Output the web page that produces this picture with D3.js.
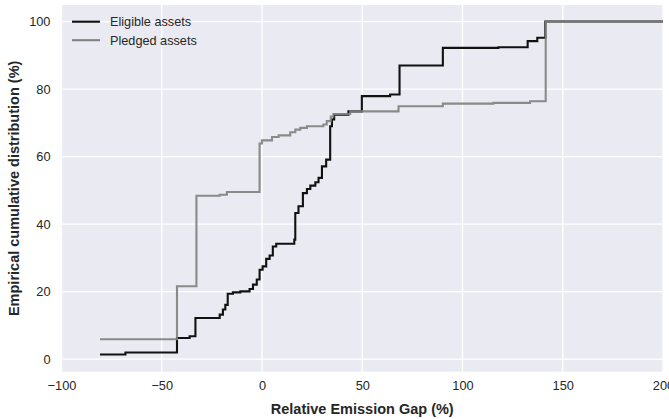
<!DOCTYPE html>
<html>
<head>
<meta charset="utf-8">
<script src="https://cdn.jsdelivr.net/npm/d3@7"></script>
<style>
  html, body { margin: 0; padding: 0; background: #fff; }
  svg { display: block; }
  text { font-family: "Liberation Sans", Arial, sans-serif; fill: #262626; }
</style>
</head>
<body>
<svg id="chart" width="669" height="419"></svg>
<script>
// ---- data ----
const xTicks = [-100, -50, 0, 50, 100, 150, 200];
const yTicks = [0, 20, 40, 60, 80, 100];
const seriesNames = ["Eligible assets", "Pledged assets"];

const eligibleX = [-80.8, -68.1, -42.4, -36.1, -33.2, -21.1, -19.5, -18.3, -17.1, -14.5, -10.8, -6.2, -4.5, -2.6, -1.2, 0.3, 2.1, 3.8, 5.4, 7.1, 16.1, 16.6, 18.2, 20.4, 22.4, 24.1, 26.6, 28.2, 29.9, 32.0, 34.0, 34.9, 36.0, 43.1, 49.8, 63.9, 68.6, 90.2, 117.9, 132.5, 137.3, 141.3, 200];
const eligibleY = [1.4, 2.0, 6.3, 6.8, 12.2, 13.2, 14.7, 16.1, 19.4, 19.8, 20.1, 20.8, 22.1, 23.6, 26.5, 27.5, 29.7, 30.7, 33.4, 34.2, 35.4, 43.3, 45.3, 49.2, 50.4, 51.4, 52.4, 53.7, 57.1, 59.1, 69.0, 71.0, 72.4, 73.4, 77.9, 78.4, 87.0, 92.2, 92.4, 94.2, 95.2, 100, 100];

const pledgedX = [-80.8, -42.4, -32.7, -21.1, -17.5, -1.2, 0.0, 5.0, 8.3, 14.1, 16.6, 19.1, 22.4, 30.6, 32.3, 34.3, 35.6, 44.0, 68.1, 90.2, 115.4, 133.7, 141.5, 200];
const pledgedY = [5.9, 21.6, 48.4, 48.7, 49.5, 63.9, 64.8, 65.8, 66.3, 67.2, 68.0, 68.5, 69.0, 69.5, 70.5, 71.9, 72.6, 73.4, 74.9, 75.7, 75.9, 76.4, 100, 100];

// ---- layout ----
const svg = d3.select("#chart");
const L = 61.5, R = 663, T = 5, B = 371.7;
const x = d3.scaleLinear().domain([-100, 200]).range([L, R]);
const y = d3.scaleLinear().domain([-3.7, 104.9]).range([B, T]);

svg.append("rect").attr("x", L).attr("y", T).attr("width", R - L).attr("height", B - T).attr("fill", "#EAEAF2");

const grid = svg.append("g");
grid.selectAll(".gx").data(xTicks).join("line")
  .attr("x1", d => x(d)).attr("x2", d => x(d)).attr("y1", T).attr("y2", B)
  .attr("stroke", "#fff").attr("stroke-width", 1.3);
grid.selectAll(".gy").data(yTicks).join("line")
  .attr("x1", L).attr("x2", R).attr("y1", d => y(d)).attr("y2", d => y(d))
  .attr("stroke", "#fff").attr("stroke-width", 1.3);

// axes
const xAxis = svg.append("g").attr("transform", `translate(0,${B})`)
  .call(d3.axisBottom(x).tickValues(xTicks).tickSize(0).tickPadding(9).tickFormat(d => d < 0 ? "\u2212" + Math.abs(d) : d));
const yAxis = svg.append("g").attr("transform", `translate(${L},0)`)
  .call(d3.axisLeft(y).tickValues(yTicks).tickSize(0).tickPadding(11));
[xAxis, yAxis].forEach(a => {
  a.select(".domain").remove();
  a.selectAll("text").attr("font-size", "12.8px").attr("fill", "#262626")
    .attr("font-family", '"Liberation Sans", Arial, sans-serif');
});

// lines
const line = d3.line().x(d => x(d[0])).y(d => y(d[1])).curve(d3.curveStepAfter);
const eligible = eligibleX.map((v, i) => [v, eligibleY[i]]);
const pledged = pledgedX.map((v, i) => [v, pledgedY[i]]);
const colors = ["#111111", "#808080"];

svg.append("path").datum(eligible).attr("d", line)
  .attr("fill", "none").attr("stroke", colors[0]).attr("stroke-width", 2.1);
svg.append("path").datum(pledged).attr("d", line)
  .attr("fill", "none").attr("stroke", colors[1]).attr("stroke-width", 2.1).attr("stroke-opacity", 0.9);

// legend
const lg = svg.append("g");
seriesNames.forEach((n, i) => {
  const yy = 21.7 + i * 18.5;
  lg.append("line").attr("x1", 72).attr("x2", 100).attr("y1", yy).attr("y2", yy)
    .attr("stroke", colors[i]).attr("stroke-width", 2.1);
  lg.append("text").attr("x", 110).attr("y", yy).attr("dy", "0.35em")
    .attr("font-size", "12.7px").text(n);
});

// axis labels
svg.append("text").attr("x", (L + R) / 2).attr("y", 414)
  .attr("text-anchor", "middle").attr("font-size", "14.5px").attr("font-weight", "bold")
  .text("Relative Emission Gap (%)");
svg.append("text").attr("transform", `translate(14,${(T + B) / 2}) rotate(-90)`)
  .attr("text-anchor", "middle").attr("dy", "0.35em").attr("font-size", "14.5px").attr("font-weight", "bold")
  .text("Empirical cumulative distribution (%)");
</script>
</body>
</html>
